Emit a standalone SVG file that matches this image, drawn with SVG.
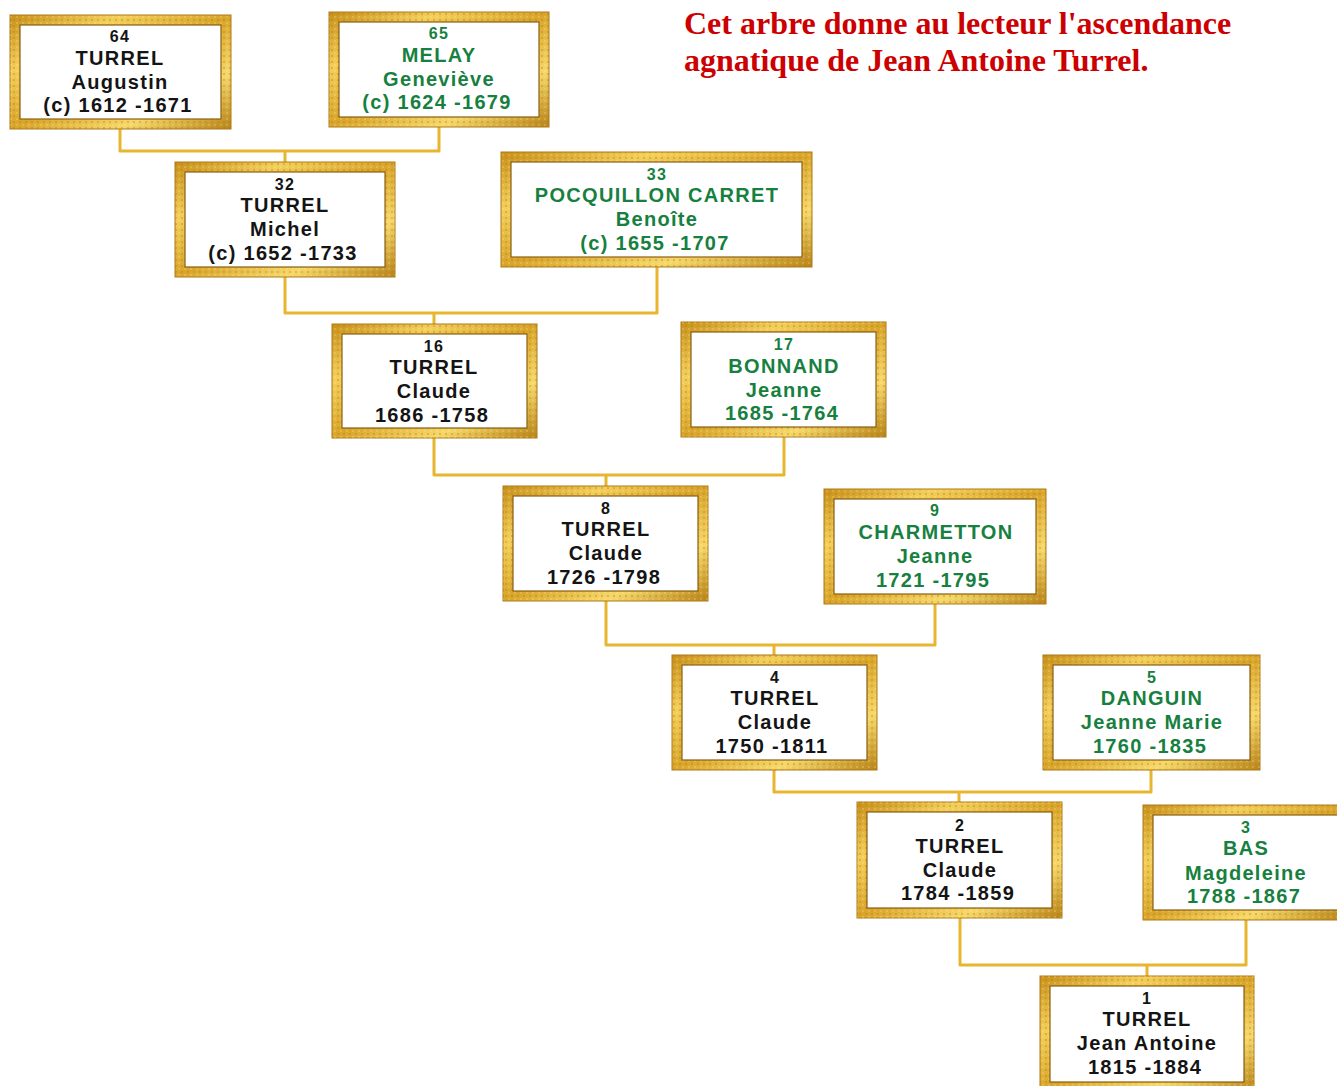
<svg xmlns="http://www.w3.org/2000/svg" width="1337" height="1086" viewBox="0 0 1337 1086">
<defs>
<linearGradient id="gold" x1="0" y1="0" x2="1" y2="1">
<stop offset="0" stop-color="#c8901a"/>
<stop offset="0.25" stop-color="#f3cf5a"/>
<stop offset="0.5" stop-color="#d9a52a"/>
<stop offset="0.75" stop-color="#f6d86a"/>
<stop offset="1" stop-color="#b98418"/>
</linearGradient>
<pattern id="tex" width="6" height="6" patternUnits="userSpaceOnUse">
<circle cx="2" cy="2" r="1" fill="#a8761a" opacity="0.45"/>
<circle cx="5" cy="5" r="0.8" fill="#fff2a8" opacity="0.5"/>
</pattern>
</defs>
<style>
.frame{fill:url(#gold);stroke:#b07a18;stroke-width:1}
.tex{fill:url(#tex)}
.inner{fill:#ffffff;stroke:#8a5e10;stroke-width:1.2}
.conn{fill:none;stroke:#e8b62e;stroke-width:3;stroke-linejoin:round}
text{font-family:"Liberation Sans",Arial,sans-serif;font-weight:bold;text-anchor:middle;letter-spacing:1.3px}
.n{font-size:16px}
.t{font-size:20px}
.m{fill:#141414}
.f{fill:#17803f}
.title{font-family:"Liberation Serif","Times New Roman",serif;font-weight:bold;font-size:32px;fill:#cc0000;text-anchor:start;letter-spacing:0}
</style>
<g id="title">
<text class="title" x="684" y="34">Cet arbre donne au lecteur l'ascendance</text>
<text class="title" x="684" y="71">agnatique de Jean Antoine Turrel.</text>
</g>
<g id="connectors">
<path class="conn" d="M120 129 V151 H439 V127 M285 151 V162"/>
<path class="conn" d="M285 277 V313 H657 V267 M434 313 V324"/>
<path class="conn" d="M434 438 V475 H784 V437 M606 475 V486"/>
<path class="conn" d="M606 601 V645 H935 V604 M774 645 V655"/>
<path class="conn" d="M774 770 V792 H1151 V770 M959 792 V802"/>
<path class="conn" d="M960 918 V965 H1246 V920 M1147 965 V976"/>
</g>
<g id="n64">
<rect class="frame" x="10" y="15" width="221" height="114"/><rect class="tex" x="10" y="15" width="221" height="114"/>
<rect class="inner" x="20" y="25" width="201" height="94"/>
<text class="m"><tspan class="n" x="120" y="42">64</tspan><tspan class="t" x="120" y="65">TURREL</tspan><tspan class="t" x="120" y="89">Augustin</tspan><tspan class="t" x="118" y="112">(c) 1612 -1671</tspan></text>
</g>
<g id="n65">
<rect class="frame" x="329" y="12" width="220" height="115"/><rect class="tex" x="329" y="12" width="220" height="115"/>
<rect class="inner" x="339" y="22" width="200" height="95"/>
<text class="f"><tspan class="n" x="439" y="39">65</tspan><tspan class="t" x="439" y="62">MELAY</tspan><tspan class="t" x="439" y="86">Geneviève</tspan><tspan class="t" x="437" y="109">(c) 1624 -1679</tspan></text>
</g>
<g id="n32">
<rect class="frame" x="175" y="162" width="220" height="115"/><rect class="tex" x="175" y="162" width="220" height="115"/>
<rect class="inner" x="185" y="172" width="200" height="95"/>
<text class="m"><tspan class="n" x="285" y="190">32</tspan><tspan class="t" x="285" y="212">TURREL</tspan><tspan class="t" x="285" y="236">Michel</tspan><tspan class="t" x="283" y="260">(c) 1652 -1733</tspan></text>
</g>
<g id="n33">
<rect class="frame" x="501" y="152" width="311" height="115"/><rect class="tex" x="501" y="152" width="311" height="115"/>
<rect class="inner" x="511" y="162" width="291" height="95"/>
<text class="f"><tspan class="n" x="657" y="180">33</tspan><tspan class="t" x="657" y="202">POCQUILLON CARRET</tspan><tspan class="t" x="657" y="226">Benoîte</tspan><tspan class="t" x="655" y="250">(c) 1655 -1707</tspan></text>
</g>
<g id="n16">
<rect class="frame" x="332" y="324" width="205" height="114"/><rect class="tex" x="332" y="324" width="205" height="114"/>
<rect class="inner" x="342" y="334" width="185" height="94"/>
<text class="m"><tspan class="n" x="434" y="352">16</tspan><tspan class="t" x="434" y="374">TURREL</tspan><tspan class="t" x="434" y="398">Claude</tspan><tspan class="t" x="432" y="422">1686 -1758</tspan></text>
</g>
<g id="n17">
<rect class="frame" x="681" y="322" width="205" height="115"/><rect class="tex" x="681" y="322" width="205" height="115"/>
<rect class="inner" x="691" y="332" width="185" height="95"/>
<text class="f"><tspan class="n" x="784" y="350">17</tspan><tspan class="t" x="784" y="373">BONNAND</tspan><tspan class="t" x="784" y="397">Jeanne</tspan><tspan class="t" x="782" y="420">1685 -1764</tspan></text>
</g>
<g id="n8">
<rect class="frame" x="503" y="486" width="205" height="115"/><rect class="tex" x="503" y="486" width="205" height="115"/>
<rect class="inner" x="513" y="496" width="185" height="95"/>
<text class="m"><tspan class="n" x="606" y="514">8</tspan><tspan class="t" x="606" y="536">TURREL</tspan><tspan class="t" x="606" y="560">Claude</tspan><tspan class="t" x="604" y="584">1726 -1798</tspan></text>
</g>
<g id="n9">
<rect class="frame" x="824" y="489" width="222" height="115"/><rect class="tex" x="824" y="489" width="222" height="115"/>
<rect class="inner" x="834" y="499" width="202" height="95"/>
<text class="f"><tspan class="n" x="935" y="516">9</tspan><tspan class="t" x="936" y="539">CHARMETTON</tspan><tspan class="t" x="935" y="563">Jeanne</tspan><tspan class="t" x="933" y="587">1721 -1795</tspan></text>
</g>
<g id="n4">
<rect class="frame" x="672" y="655" width="205" height="115"/><rect class="tex" x="672" y="655" width="205" height="115"/>
<rect class="inner" x="682" y="665" width="185" height="95"/>
<text class="m"><tspan class="n" x="775" y="683">4</tspan><tspan class="t" x="775" y="705">TURREL</tspan><tspan class="t" x="775" y="729">Claude</tspan><tspan class="t" x="772" y="753">1750 -1811</tspan></text>
</g>
<g id="n5">
<rect class="frame" x="1043" y="655" width="217" height="115"/><rect class="tex" x="1043" y="655" width="217" height="115"/>
<rect class="inner" x="1053" y="665" width="197" height="95"/>
<text class="f"><tspan class="n" x="1152" y="683">5</tspan><tspan class="t" x="1152" y="705">DANGUIN</tspan><tspan class="t" x="1152" y="729">Jeanne Marie</tspan><tspan class="t" x="1150" y="753">1760 -1835</tspan></text>
</g>
<g id="n2">
<rect class="frame" x="857" y="802" width="205" height="116"/><rect class="tex" x="857" y="802" width="205" height="116"/>
<rect class="inner" x="867" y="812" width="185" height="96"/>
<text class="m"><tspan class="n" x="960" y="831">2</tspan><tspan class="t" x="960" y="853">TURREL</tspan><tspan class="t" x="960" y="877">Claude</tspan><tspan class="t" x="958" y="900">1784 -1859</tspan></text>
</g>
<g id="n3">
<rect class="frame" x="1143" y="805" width="200" height="115"/><rect class="tex" x="1143" y="805" width="200" height="115"/>
<rect class="inner" x="1153" y="815" width="190" height="95"/>
<text class="f"><tspan class="n" x="1246" y="833">3</tspan><tspan class="t" x="1246" y="855">BAS</tspan><tspan class="t" x="1246" y="880">Magdeleine</tspan><tspan class="t" x="1244" y="903">1788 -1867</tspan></text>
</g>
<g id="n1">
<rect class="frame" x="1040" y="976" width="214" height="116"/><rect class="tex" x="1040" y="976" width="214" height="116"/>
<rect class="inner" x="1050" y="986" width="194" height="96"/>
<text class="m"><tspan class="n" x="1147" y="1004">1</tspan><tspan class="t" x="1147" y="1026">TURREL</tspan><tspan class="t" x="1147" y="1050">Jean Antoine</tspan><tspan class="t" x="1145" y="1074">1815 -1884</tspan></text>
</g>
</svg>
